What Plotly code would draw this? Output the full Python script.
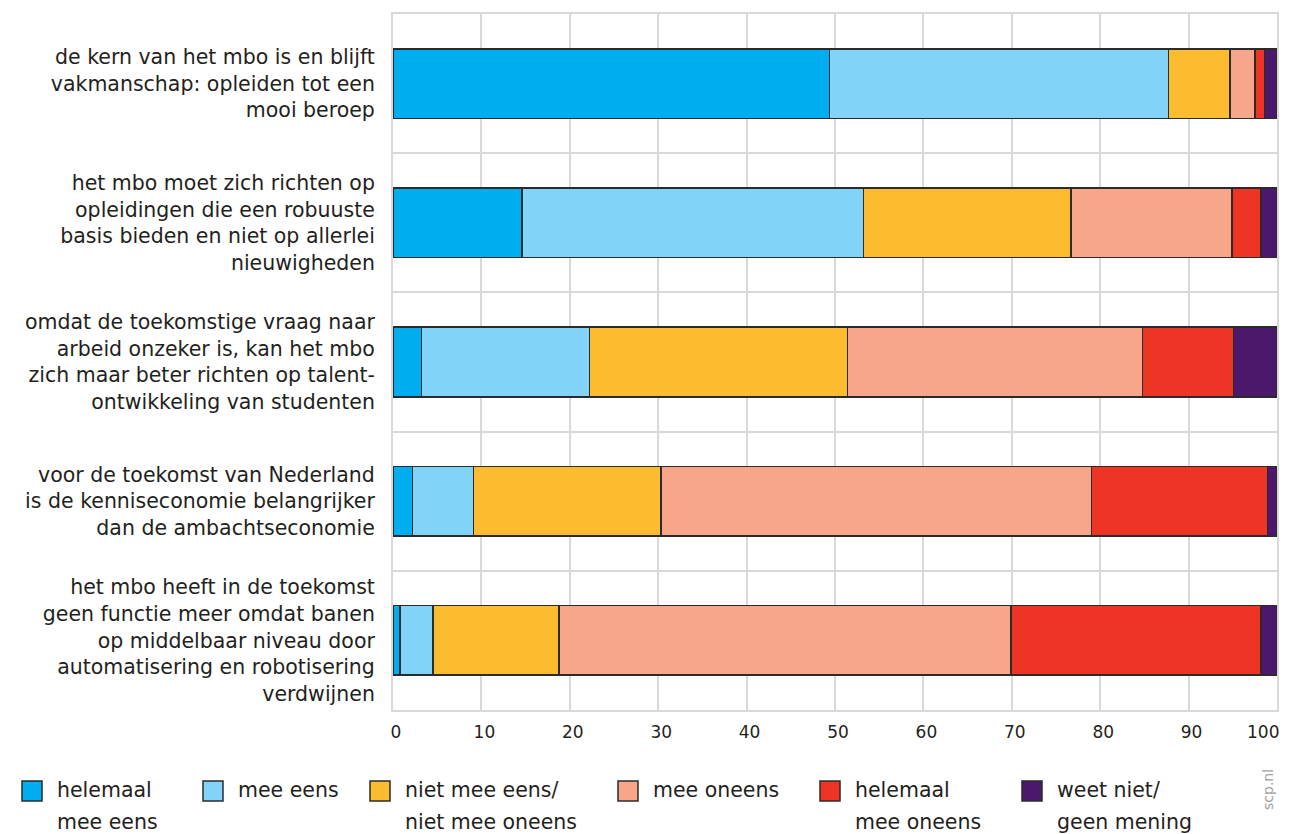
import plotly.graph_objects as go

categories = [
    "de kern van het mbo is en blijft<br>vakmanschap: opleiden tot een<br>mooi beroep",
    "het mbo moet zich richten op<br>opleidingen die een robuuste<br>basis bieden en niet op allerlei<br>nieuwigheden",
    "omdat de toekomstige vraag naar<br>arbeid onzeker is, kan het mbo<br>zich maar beter richten op talent-<br>ontwikkeling van studenten",
    "voor de toekomst van Nederland<br>is de kenniseconomie belangrijker<br>dan de ambachtseconomie",
    "het mbo heeft in de toekomst<br>geen functie meer omdat banen<br>op middelbaar niveau door<br>automatisering en robotisering<br>verdwijnen",
]

series_names = [
    "helemaal<br>mee eens",
    "mee eens",
    "niet mee eens/<br>niet mee oneens",
    "mee oneens",
    "helemaal<br>mee oneens",
    "weet niet/<br>geen mening",
]

helemaal_mee_eens = [49.4, 14.6, 3.2, 2.2, 0.8]
mee_eens = [38.3, 38.6, 19.0, 6.9, 3.7]
neutraal = [7.0, 23.5, 29.2, 21.2, 14.3]
mee_oneens = [2.8, 18.2, 33.4, 48.7, 51.1]
helemaal_mee_oneens = [1.1, 3.3, 10.3, 19.9, 28.3]
weet_niet = [1.4, 1.8, 4.9, 1.1, 1.8]

series_values = [helemaal_mee_eens, mee_eens, neutraal, mee_oneens,
                 helemaal_mee_oneens, weet_niet]
colors = ["#00ADEE", "#81D4F7", "#FDBB30", "#F7A68A", "#EE3424", "#4B186B"]

x_ticks = list(range(0, 101, 10))
x_ticktext = [str(v) for v in x_ticks]

FONT = "DejaVu Sans"
TXT = "#231F20"
GRID = "#D9D9D9"

fig = go.Figure()
for name, vals, col in zip(series_names, series_values, colors):
    fig.add_trace(go.Bar(
        y=categories, x=vals, orientation="h", name=name,
        marker=dict(color=col, line=dict(color="#2B2B2B", width=1.5)),
        width=0.5, showlegend=False,
    ))

# The page body has an 8px margin; work in screen pixels and shift.
OFF = 8
SW, SH = 1293, 834
L, R, T, B = 393 - OFF, 1277 - OFF, 14 - OFF, 710 - OFF
W, H = SW - OFF, SH - OFF

fig.update_layout(
    width=W, height=H,
    barmode="stack",
    margin=dict(l=L, r=W - R, t=T, b=H - B, pad=0, autoexpand=False),
    plot_bgcolor="white", paper_bgcolor="white",
    font=dict(family=FONT, size=19, color=TXT),
    xaxis=dict(
        range=[0, 100], tickvals=x_ticks[:-1], ticktext=x_ticktext[:-1],
        showgrid=True, gridcolor=GRID, gridwidth=1.5,
        showline=True, linecolor=GRID, linewidth=2, mirror=True,
        zeroline=False, ticks="", tickfont=dict(size=17, color=TXT),
        ticklabelstandoff=6, ticklabelshift=3, automargin=False,
    ),
    yaxis=dict(
        type="category", categoryorder="array", categoryarray=categories,
        autorange="reversed", tickson="boundaries",
        showgrid=True, gridcolor=GRID, gridwidth=2,
        showline=True, linecolor=GRID, linewidth=2, mirror=True,
        ticks="", ticklabelstandoff=12, tickfont=dict(size=20.5, color=TXT),
        automargin=False,
    ),
)

def px_to_paper_x(px):
    return (px - OFF - L) / (R - L)

def px_to_paper_y(py):
    return (B - (py - OFF)) / (B - T)

# Last x tick label, kept inside the page (right-aligned on its tick)
fig.add_annotation(
    text=x_ticktext[-1], xref="x", yref="paper",
    x=x_ticks[-1], y=px_to_paper_y(732), xshift=4,
    xanchor="right", yanchor="middle", showarrow=False,
    font=dict(size=17, color=TXT, family=FONT),
)

# Manual legend (screen pixel coordinates)
sq_x = [22, 203, 370, 618, 820, 1022]
sq_size = 20
sq_cy = 791
line_y = [790, 822]
for name, col, sx in zip(series_names, colors, sq_x):
    fig.add_shape(
        type="rect", xref="paper", yref="paper",
        x0=px_to_paper_x(sx), x1=px_to_paper_x(sx + sq_size),
        y0=px_to_paper_y(sq_cy + sq_size / 2), y1=px_to_paper_y(sq_cy - sq_size / 2),
        fillcolor=col, line=dict(color="#2B2B2B", width=1.5),
    )
    for i, part in enumerate(name.split("<br>")):
        fig.add_annotation(
            text=part, xref="paper", yref="paper",
            x=px_to_paper_x(sx + 33), y=px_to_paper_y(line_y[i]),
            xanchor="left", yanchor="middle", showarrow=False,
            font=dict(size=20.5, color=TXT, family=FONT),
        )

fig.add_annotation(
    text="scp.nl", xref="paper", yref="paper",
    x=px_to_paper_x(1268), y=px_to_paper_y(790),
    xanchor="center", yanchor="middle", textangle=-90, showarrow=False,
    font=dict(size=14, color="#A0A0A0", family=FONT),
)

fig.write_html("out.html")
